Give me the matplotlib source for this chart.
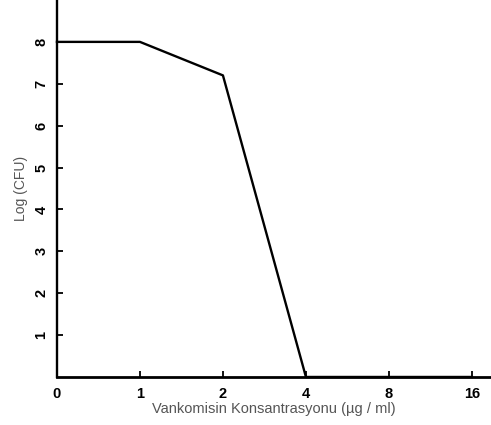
import matplotlib
matplotlib.use("Agg")
import matplotlib.pyplot as plt

concentrations = ["0", "1", "2", "4", "8", "16"]
log_cfu = [8.0, 8.0, 7.2, 0.0, 0.0, 0.0]
y_ticks = [1, 2, 3, 4, 5, 6, 7, 8]

plt.rcParams['font.family'] = ['Liberation Sans', 'DejaVu Sans']

fig = plt.figure(figsize=(4.91, 4.25), dpi=100)
ax = fig.add_axes([0.116, 0.113, 0.884, 0.887])

x = list(range(len(concentrations)))
ax.plot(x, log_cfu, color='black', lw=1.7, clip_on=False, zorder=3)

ax.set_xlim(0, 5.23)
ax.set_ylim(0, 9.0)
ax.set_xticks(x)
ax.set_xticklabels(concentrations, fontweight='bold', fontsize=10.5)
ax.set_yticks(y_ticks)
ax.set_yticklabels([str(v) for v in y_ticks], fontweight='bold', fontsize=10.5, rotation=90, va='center')

for s in ['top', 'right']:
    ax.spines[s].set_visible(False)
ax.spines['left'].set_linewidth(1.7)
ax.spines['bottom'].set_linewidth(2.0)

ax.tick_params(axis='both', direction='in', length=4, width=1.3, pad=6)
ax.tick_params(axis='x', pad=7)
ax.xaxis.get_major_ticks()[0].tick1line.set_visible(False)

ax.set_xlabel("Vankomisin Konsantrasyonu (µg / ml)", fontsize=10.5, color='#555555', labelpad=1)
ax.set_ylabel("Log (CFU)", fontsize=10, color='#555555', labelpad=5)

fig.savefig("out.png", dpi=100)
